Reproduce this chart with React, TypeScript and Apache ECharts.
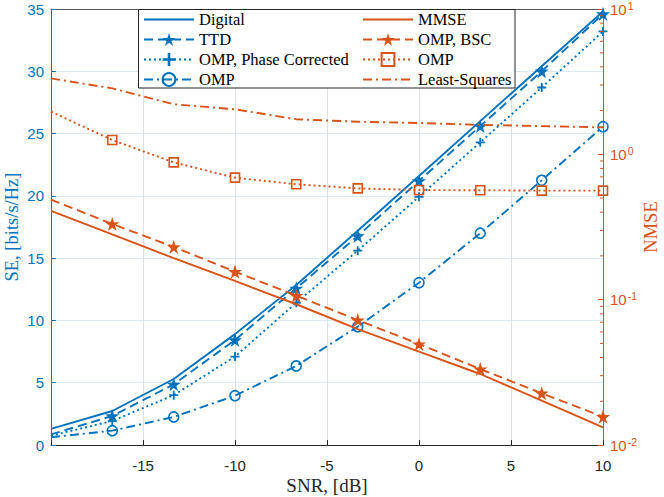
import React, { useEffect, useRef } from 'react';
import * as echarts from 'echarts';

const BLUE = '#0072BD';
const ORANGE = '#D95319';

// SNR grid [dB]
const snr = [-20, -16.67, -13.33, -10, -6.67, -3.33, 0, 3.33, 6.67, 10];

// Spectral efficiency [bits/s/Hz] (left axis)
const seDigital = [1.3, 2.73, 5.3, 8.9, 12.85, 17.2, 21.6, 26.0, 30.4, 34.8];
const seTTD = [0.85, 2.33, 4.87, 8.43, 12.58, 16.78, 21.2, 25.6, 30.0, 34.6];
const seOmpPhase = [0.75, 1.93, 4.0, 7.1, 11.42, 15.6, 19.93, 24.3, 28.7, 33.2];
const seOmp = [0.62, 1.15, 2.25, 3.96, 6.35, 9.5, 13.03, 17.0, 21.25, 25.55];

// NMSE (right axis, log)
const nmseMMSE = [0.4087, 0.2809, 0.1931, 0.1345, 0.093, 0.0627, 0.0439, 0.0308, 0.0202, 0.0132];
const nmseBSC = [0.488, 0.3315, 0.2306, 0.1557, 0.1066, 0.0724, 0.0495, 0.0333, 0.0227, 0.01565];
const nmseOmp = [1.966, 1.254, 0.881, 0.691, 0.6223, 0.583, 0.568, 0.566, 0.5625, 0.5625];
const nmseLS = [3.331, 2.844, 2.21, 2.042, 1.743, 1.676, 1.643, 1.595, 1.564, 1.533];

const nmseMinorTicks = [
  0.02, 0.03, 0.04, 0.05, 0.06, 0.07, 0.08, 0.09,
  0.2, 0.3, 0.4, 0.5, 0.6, 0.7, 0.8, 0.9,
  2, 3, 4, 5, 6, 7, 8, 9,
];

const legendLeft = ['Digital', 'TTD', 'OMP, Phase Corrected', 'OMP'];
const legendRight = ['MMSE', 'OMP, BSC', 'OMP (NMSE)', 'Least-Squares'];
const legendDisplay: Record<string, string> = { 'OMP (NMSE)': 'OMP' };
const noMarker = ['Digital', 'MMSE', 'Least-Squares'];

const STAR =
  'path://M50,0L61.8,34.5L97.6,34.5L68.5,55.9L79.4,90.5L50,69.1L20.6,90.5L31.5,55.9L2.4,34.5L38.2,34.5Z';
const PLUS = 'path://M4,0H6V4H10V6H6V10H4V6H0V4H4Z';

function pts(ys: number[]) {
  return snr.map((x, i) => (i === 0 ? { value: [x, ys[i]], symbol: 'none' } : [x, ys[i]]));
}

function lineSeries(
  name: string,
  ys: number[],
  yAxisIndex: number,
  color: string,
  dash: any,
  symbol: string,
  symbolSize: number,
  hollow: boolean,
  z: number
) {
  return {
    type: 'line',
    name,
    xAxisIndex: 0,
    yAxisIndex,
    data: pts(ys),
    symbol,
    symbolSize,
    showSymbol: symbol !== 'none',
    showAllSymbol: true,
    lineStyle: { color, width: 1.9, type: dash },
    itemStyle: hollow
      ? { color: 'rgba(255,255,255,0)', borderColor: color, borderWidth: 1.6 }
      : { color },
    emphasis: { disabled: true },
    z,
  };
}

function legendItems(names: string[]) {
  return names.map((n) =>
    noMarker.includes(n)
      ? { name: n, itemStyle: { opacity: 0, color: 'rgba(0,0,0,0)', borderColor: 'rgba(0,0,0,0)', borderWidth: 0 } }
      : { name: n }
  );
}

const legendCommon = {
  orient: 'vertical',
  top: 11,
  itemWidth: 50,
  itemHeight: 16,
  itemGap: 3,
  padding: 0,
  selectedMode: false,
  textStyle: { fontFamily: 'Liberation Serif', fontSize: 16.5, color: '#000' },
  z: 11,
  formatter: (n: string) => legendDisplay[n] ?? n,
};

function buildOption() {
  return {
    animation: false,
    backgroundColor: '#fff',
    grid: { left: 51, right: 61, top: 9, bottom: 52, containLabel: false, outerBoundsMode: 'none' },
    legend: [
      { ...legendCommon, left: 143, data: legendItems(legendLeft) },
      { ...legendCommon, left: 362, data: legendItems(legendRight) },
    ],
    graphic: [
      {
        type: 'rect',
        z: 10,
        shape: { x: 138.5, y: 9.5, width: 376.5, height: 78.5 },
        style: { fill: '#fff', stroke: '#262626', lineWidth: 1 },
      },
    ],
    xAxis: [
      {
        type: 'value',
        min: -20,
        max: 10,
        interval: 5,
        position: 'bottom',
        axisLine: { show: true, onZero: false, lineStyle: { color: '#262626', width: 1 } },
        axisTick: { show: true, inside: true, length: 5, lineStyle: { color: '#262626' } },
        axisLabel: {
          formatter: (v: number) => (v === -20 ? '' : String(v)),
          color: '#262626',
          fontSize: 15,
          fontFamily: 'Liberation Sans',
          margin: 13,
        },
        splitLine: { show: true, lineStyle: { color: '#e0e0e0', width: 1 } },
        name: 'SNR, [dB]',
        nameLocation: 'middle',
        nameGap: 31,
        nameMoveOverlap: false,
        nameTextStyle: { fontFamily: 'Liberation Serif', fontSize: 19, color: '#262626' },
      },
      {
        type: 'value',
        min: -20,
        max: 10,
        position: 'top',
        axisLine: { show: true, onZero: false, lineStyle: { color: '#555', width: 1 } },
        axisTick: { show: false },
        axisLabel: { show: false },
        splitLine: { show: false },
      },
    ],
    yAxis: [
      {
        type: 'value',
        min: 0,
        max: 35,
        interval: 5,
        position: 'left',
        axisLine: { show: true, onZero: false, lineStyle: { color: BLUE, width: 1 } },
        axisTick: { show: true, inside: true, length: 5, lineStyle: { color: BLUE } },
        axisLabel: { color: BLUE, fontSize: 15, fontFamily: 'Liberation Sans', margin: 7 },
        splitLine: { show: true, lineStyle: { color: '#dbe9f5', width: 1 } },
        name: 'SE, [bits/s/Hz]',
        nameLocation: 'middle',
        nameRotate: 90,
        nameGap: 29,
        nameMoveOverlap: false,
        nameTextStyle: { fontFamily: 'Liberation Serif', fontSize: 18.5, lineHeight: 20, color: BLUE },
      },
      {
        type: 'log',
        logBase: 10,
        min: 0.01,
        max: 10,
        position: 'right',
        axisLine: { show: true, onZero: false, lineStyle: { color: ORANGE, width: 1 } },
        axisTick: { show: true, inside: true, length: 5, lineStyle: { color: ORANGE } },
        axisLabel: {
          margin: 7,
          formatter: (v: number) => `{b|10}{s|${Math.round(Math.log10(v))}}`,
          rich: {
            b: { fontSize: 15, lineHeight: 16, color: ORANGE, fontFamily: 'Liberation Sans' },
            s: { fontSize: 10.5, lineHeight: 11, color: ORANGE, fontFamily: 'Liberation Sans', padding: [0, 0, 7, 1] },
          },
        },
        splitLine: { show: false },
        name: 'NMSE',
        nameLocation: 'middle',
        nameRotate: 90,
        nameGap: 38,
        nameMoveOverlap: false,
        nameTextStyle: { fontFamily: 'Liberation Serif', fontSize: 18.5, lineHeight: 20, color: ORANGE },
      },
    ],
    series: [
      lineSeries('Digital', seDigital, 0, BLUE, 'solid', 'none', 0, false, 2),
      lineSeries('TTD', seTTD, 0, BLUE, [9, 5], STAR, 14, false, 2),
      lineSeries('OMP, Phase Corrected', seOmpPhase, 0, BLUE, [2, 3], PLUS, 9, false, 2),
      lineSeries('OMP', seOmp, 0, BLUE, [9, 4, 2, 4], 'circle', 10, true, 2),
      lineSeries('MMSE', nmseMMSE, 1, ORANGE, 'solid', 'none', 0, false, 3),
      lineSeries('OMP, BSC', nmseBSC, 1, ORANGE, [9, 5], STAR, 14, false, 3),
      lineSeries('OMP (NMSE)', nmseOmp, 1, ORANGE, [2, 3], 'rect', 9, true, 3),
      lineSeries('Least-Squares', nmseLS, 1, ORANGE, [9, 4, 2, 4], 'none', 0, false, 3),
      {
        type: 'custom',
        xAxisIndex: 0,
        yAxisIndex: 1,
        silent: true,
        clip: false,
        data: nmseMinorTicks.map((v) => [10, v]),
        renderItem: (_p: any, api: any) => {
          const p = api.coord([api.value(0), api.value(1)]);
          return {
            type: 'line',
            shape: { x1: p[0] - 3, y1: p[1], x2: p[0], y2: p[1] },
            style: { stroke: ORANGE, lineWidth: 1 },
          };
        },
        z: 4,
      },
    ],
  };
}

export default function App() {
  const ref = useRef<HTMLDivElement>(null);
  useEffect(() => {
    document.body.style.margin = '0';
    const chart = echarts.init(ref.current!, null, { renderer: 'svg' });
    chart.setOption(buildOption() as any);
    return () => chart.dispose();
  }, []);
  return <div ref={ref} style={{ width: 664, height: 497, position: 'absolute', left: 0, top: 0 }} />;
}
